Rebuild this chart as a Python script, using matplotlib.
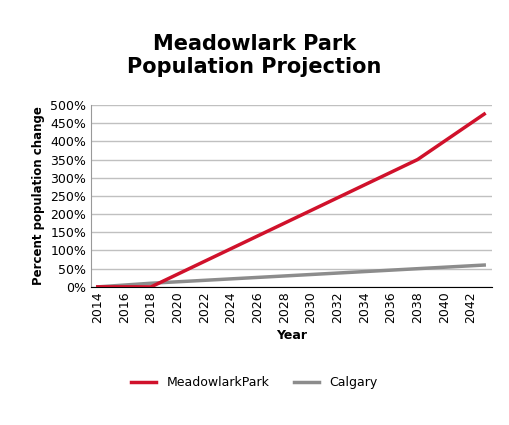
import matplotlib
matplotlib.use('Agg')
import matplotlib.pyplot as plt
from matplotlib.ticker import FuncFormatter

years_mp = [2014, 2018, 2038, 2043]
meadowlark = [0, 0, 350, 475]
years_cal = [2014, 2018, 2043]
calgary = [0, 10, 60]
xticks = list(range(2014, 2043, 2))

fig = plt.figure(figsize=(5.09, 4.25), dpi=100)
ax = fig.add_axes([0.179, 0.325, 0.788, 0.428])
ax.plot(years_cal, calgary, color='#8c8c8c', lw=2.5, label='Calgary', zorder=2)
ax.plot(years_mp, meadowlark, color='#d0112b', lw=2.5, label='MeadowlarkPark', zorder=3)
ax.set_xlim(2013.5, 2043.6)
ax.set_ylim(0, 500)
ax.set_yticks(range(0, 501, 50))
ax.yaxis.set_major_formatter(FuncFormatter(lambda v, p: f'{int(v)}%'))
ax.set_xticks(xticks)
ax.set_xticklabels([str(x) for x in xticks], rotation=90)
ax.tick_params(labelsize=9, length=0)
ax.grid(axis='y', color='#c0c0c0', lw=1)
ax.set_axisbelow(True)
for s in ['top', 'right']:
    ax.spines[s].set_visible(False)
ax.spines['left'].set_color('#999999')
ax.spines['bottom'].set_color('black')
ax.set_xlabel('Year', fontsize=9, fontweight='bold')
ax.set_ylabel('Percent population change', fontsize=8.5, fontweight='bold')
fig.suptitle('Meadowlark Park\nPopulation Projection', fontsize=15, fontweight='bold', y=0.92)
h, l = ax.get_legend_handles_labels()
fig.legend(h[::-1], l[::-1], loc='center', bbox_to_anchor=(0.5, 0.1), ncol=2, frameon=False, fontsize=9)
fig.savefig('out.png')
